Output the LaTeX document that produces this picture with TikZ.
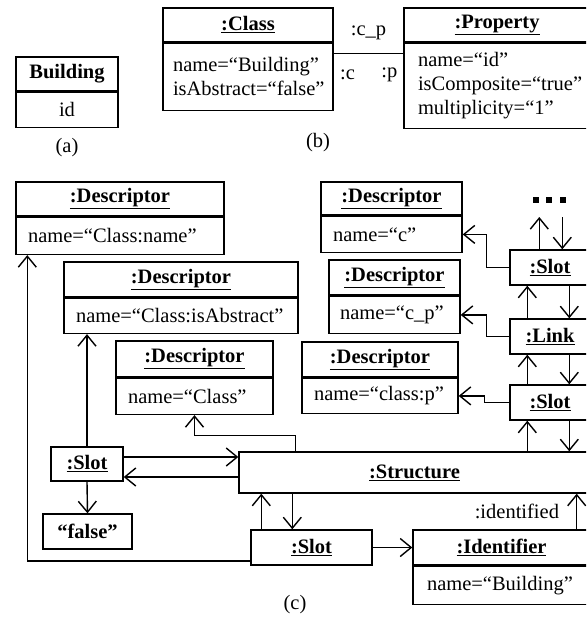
\documentclass[tikz,border=0pt]{standalone}
\usepackage{fontspec}
\setmainfont{Liberation Serif}
\usetikzlibrary{arrows.meta,positioning}

\begin{document}
\begin{tikzpicture}[x=1pt,y=-1pt,line width=1.4pt,
    font=\fontsize{20.5}{24}\selectfont,
    hd/.style={draw,inner sep=0pt,font=\fontsize{20.5}{24}\selectfont\bfseries},
    bd/.style={draw,inner xsep=12pt,inner ysep=0pt,align=left},
    arr/.style={-{Straight Barb[length=11pt,width=18pt]}},
    lbl/.style={inner sep=1pt}]
    \clip (0,0) rectangle (586,618);

    % (a) classe
    \node[hd,minimum width=102,minimum height=34] (bldh) at (67,74) {Building};
    \node[draw,minimum width=102,minimum height=35,below=0pt of bldh] (bldb) {id};
    \node at (67,148) {(a)};

    % (b) instancias
    \node[hd,minimum width=170,minimum height=34] (clsh) at (248,25) {\underline{:Class}};
    \node[bd,inner xsep=10pt,text width=150,minimum height=67,below=0pt of clsh] (clsb) {name=“Building”\\isAbstract=“false”};
    \node[hd,minimum width=186,minimum height=34] (proph) at (497,25) {\underline{:Property}};
    \node[bd,inner xsep=14pt,text width=158,minimum height=85,below=0pt of proph] (propb) {name=“id”\\isComposite=“true”\\multiplicity=“1”};
    \draw ([yshift=-11pt]clsb.north east) -- ([yshift=-11pt]clsb.north east -| propb.west)
      node[lbl,midway,yshift=21pt] {:c\_p}
      node[lbl,pos=0.2,yshift=-21pt] {:c}
      node[lbl,pos=0.8,yshift=-21pt] {:p};
    \node at (318,143) {(b)};

    % (c) descritores
    \node[hd,minimum width=208,minimum height=34] (d1h) at (120,199) {\underline{:Descriptor}};
    \node[bd,text width=184,minimum height=37,below=0pt of d1h] (d1b) {name=“Class:name”};
    \node[hd,minimum width=234,minimum height=35] (d2h) at (181,279.5) {\underline{:Descriptor}};
    \node[bd,inner xsep=12pt,text width=210,minimum height=35,below=0pt of d2h] (d2b) {name=“Class:isAbstract”};
    \node[hd,minimum width=157,minimum height=36] (d3h) at (194.5,359) {\underline{:Descriptor}};
    \node[bd,text width=133,minimum height=36,below=0pt of d3h] (d3b) {name=“Class”};
    \node[hd,minimum width=141,minimum height=33] (dch) at (391.5,198.5) {\underline{:Descriptor}};
    \node[bd,text width=117,minimum height=36,below=0pt of dch] (dcb) {name=“c”};
    \node[hd,minimum width=131,minimum height=35] (dcph) at (394.5,277.5) {\underline{:Descriptor}};
    \node[bd,inner xsep=11pt,text width=109,minimum height=37,below=0pt of dcph] (dcpb) {name=“c\_p”};
    \node[hd,minimum width=156,minimum height=35] (dph) at (380,359.5) {\underline{:Descriptor}};
    \node[bd,text width=132,minimum height=35,below=0pt of dph] (dpb) {name=“class:p”};

    % slots, link e estrutura
    \node[hd,minimum width=80,minimum height=35] (s1) at (550,267.5) {\underline{:Slot}};
    \node[hd,minimum width=80,minimum height=35] (lk) at (550,336.5) {\underline{:Link}};
    \node[hd,minimum width=80,minimum height=35] (s2) at (550,402.5) {\underline{:Slot}};
    \node[inner sep=0pt] (dots) at (549,200) {\rule{6pt}{6pt}\hspace{7.5pt}\rule{6pt}{6pt}\hspace{7.5pt}\rule{6pt}{6pt}};
    \coordinate (top) at (549,217);
    \node[hd,minimum width=351,minimum height=41] (st) at (414.5,472.5) {\underline{:Structure}};
    \node[hd,minimum width=72,minimum height=34] (slotL) at (87,464) {\underline{:Slot}};
    \node[hd,minimum width=89,minimum height=35] (fls) at (87.5,531.5) {“false”};
    \node[hd,minimum width=121,minimum height=35] (slotB) at (311.5,547.5) {\underline{:Slot}};
    \node[hd,minimum width=177,minimum height=35] (idh) at (501.5,547.5) {\underline{:Identifier}};
    \node[bd,inner xsep=14pt,text width=149,minimum height=38,below=0pt of idh] (idb) {name=“Building”};
    \node at (295,605) {(c)};

    % cadeia da direita
    \draw[arr] ([xshift=30pt]s1.north west) -- ([xshift=30pt]s1.north west |- top);
    \draw[arr] ([xshift=53pt]s1.north west |- top) -- ([xshift=53pt]s1.north west);
    \draw[arr] ([xshift=18pt]lk.north west) -- ([xshift=18pt]lk.north west |- s1.south);
    \draw[arr] ([xshift=60pt]s1.south west) -- ([xshift=60pt]s1.south west |- lk.north);
    \draw[arr] ([xshift=18pt]s2.north west) -- ([xshift=18pt]s2.north west |- lk.south);
    \draw[arr] ([xshift=60pt]lk.south west) -- ([xshift=60pt]lk.south west |- s2.north);
    \draw[arr] ([xshift=18pt]s2.south west |- st.north) -- ([xshift=18pt]s2.south west);
    \draw[arr] ([xshift=60pt]s2.south west) -- ([xshift=60pt]s2.south west |- st.north);
    \draw[arr] (s1.west) -- ++(-23,0) |- (dcb.east);
    \draw[arr] (lk.west) -- ++(-23,0) |- (dcpb.east);
    \draw[arr] (s2.west) -- ++(-25,0) |- (dpb.east);

    % ligacoes da esquerda
    \draw[arr] ([yshift=7pt]slotL.east) -- ([yshift=7pt]slotL.east -| st.west);
    \draw[arr] ([yshift=-13pt]slotL.east -| st.west) -- ([yshift=-13pt]slotL.east);
    \draw[arr] (slotL.south) -- (fls.north);
    \draw[arr] (slotL.north) -- (slotL.north |- d2b.south);
    \draw[arr] ([xshift=57pt]st.north west) -- ++(0,-16) -| (d3b.south);

    % slot de baixo
    \draw[arr] ([xshift=11pt]slotB.north west) -- ([xshift=11pt]slotB.north west |- st.south);
    \draw[arr] ([xshift=42pt]slotB.north west |- st.south) -- ([xshift=42pt]slotB.north west);
    \draw[arr] (slotB.east) -- (idh.west);
    \draw[arr] ([yshift=-13.5pt]slotB.west) -| ([xshift=12pt]d1b.south west);
    \draw[arr] ([xshift=-14pt]idh.north east) -- ([xshift=-14pt]idh.north east |- st.south)
      node[lbl,midway,left=16pt] {:identified};
\end{tikzpicture}
\end{document}
